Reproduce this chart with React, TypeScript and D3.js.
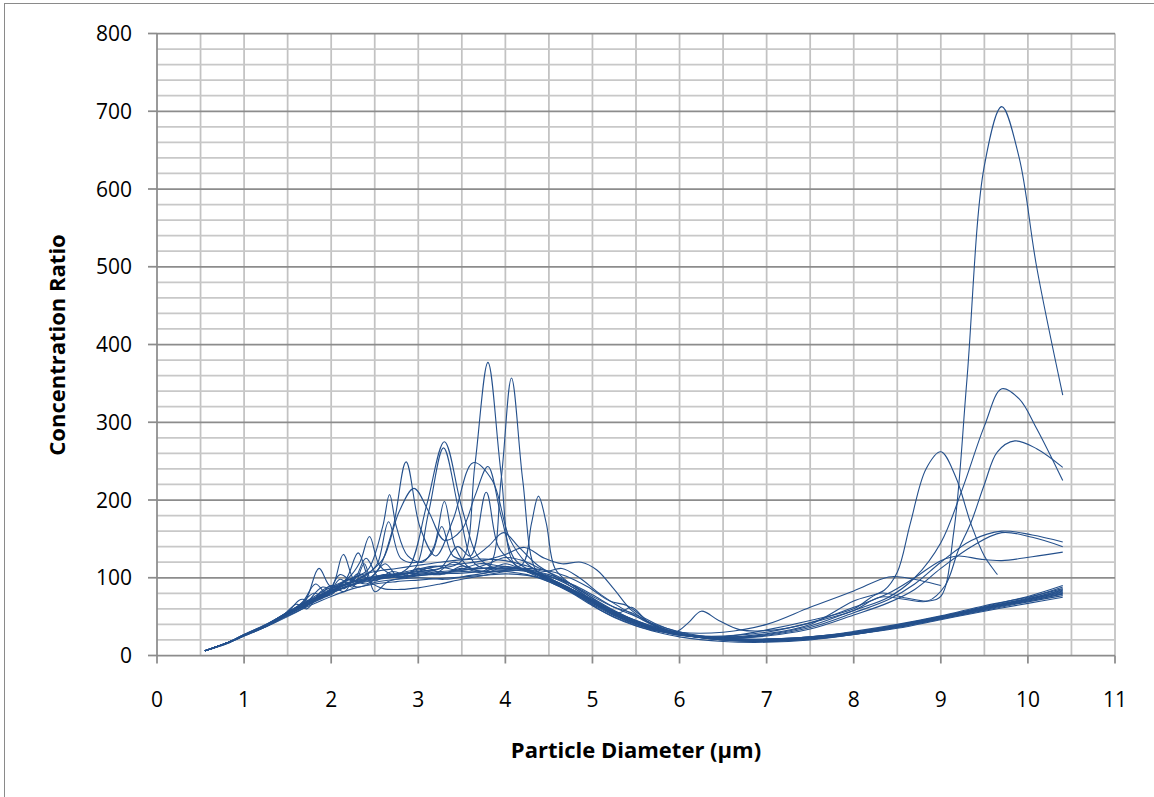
import React from 'react';
import * as d3 from 'd3';

// x ticks / y ticks
const xTicks = [0, 1, 2, 3, 4, 5, 6, 7, 8, 9, 10, 11];
const yTicks = [0, 100, 200, 300, 400, 500, 600, 700, 800];

// each series: [diameter (µm), concentration ratio]
const s01 = [[0.55,6],[0.8,16],[1.0,26],[1.25,39],[1.5,55],[1.75,70],[2.0,84],[2.25,95],[2.5,101],[2.75,104],[3.0,108],[3.25,112],[3.5,122],[3.65,245],[3.8,377],[3.95,235],[4.1,118],[4.3,108],[4.5,98],[4.75,84],[5.0,68],[5.25,52],[5.5,40],[5.75,32],[6.0,26],[6.5,24],[7.0,33],[7.5,45],[8.0,60],[8.3,80],[8.6,74],[8.85,70],[9.0,76],[9.15,160],[9.3,355],[9.5,630],[9.7,706],[9.9,640],[10.1,500],[10.4,335]];
const s02 = [[0.55,6],[0.8,16],[1.0,26],[1.25,38],[1.5,53],[1.75,66],[2.0,80],[2.25,91],[2.5,98],[2.75,101],[3.0,104],[3.25,106],[3.5,108],[3.8,112],[3.95,225],[4.07,357],[4.2,225],[4.35,110],[4.5,100],[4.75,86],[5.0,70],[5.25,55],[5.5,42],[5.75,33],[6.0,27],[6.5,23],[7.0,27],[7.5,38],[8.0,58],[8.4,75],[8.7,100],[9.0,145],[9.25,215],[9.5,295],[9.7,343],[9.9,330],[10.1,292],[10.4,225]];
const s03 = [[0.55,6],[0.8,16],[1.0,27],[1.25,39],[1.5,55],[1.75,69],[2.0,83],[2.25,94],[2.5,100],[2.75,104],[2.9,115],[3.1,195],[3.3,275],[3.5,190],[3.7,125],[3.9,112],[4.1,112],[4.3,108],[4.5,97],[4.75,83],[5.0,68],[5.25,52],[5.5,41],[5.75,33],[6.0,27],[6.5,25],[7.0,30],[7.5,42],[8.0,58],[8.3,75],[8.6,72],[8.85,70],[9.05,90],[9.2,135],[9.35,172],[9.5,220],[9.65,262],[9.85,276],[10.1,266],[10.4,242]];
const s04 = [[0.55,6],[0.8,16],[1.0,26],[1.25,38],[1.5,54],[1.75,68],[2.0,82],[2.25,92],[2.5,105],[2.7,160],[2.86,249],[3.02,165],[3.2,128],[3.4,175],[3.63,248],[3.85,225],[4.05,150],[4.25,118],[4.5,100],[4.75,86],[5.0,70],[5.25,54],[5.5,43],[5.75,34],[6.0,28],[6.5,24],[7.0,28],[7.5,40],[8.0,70],[8.35,84],[8.5,107],[8.65,170],[8.83,240],[9.0,262],[9.17,230],[9.35,168],[9.5,128],[9.65,104]];
const s05 = [[0.55,6],[0.8,16],[1.0,26],[1.25,38],[1.5,54],[1.75,67],[2.0,81],[2.25,92],[2.5,99],[2.75,103],[2.95,110],[3.12,185],[3.29,267],[3.47,185],[3.65,118],[3.9,110],[4.15,112],[4.4,104],[4.6,94],[4.85,80],[5.1,63],[5.35,50],[5.6,38],[5.85,30],[6.1,25],[6.5,22],[7.0,26],[7.5,36],[8.0,55],[8.4,72],[8.7,92],[9.0,120],[9.35,148],[9.7,160],[10.05,155],[10.4,146]];
const s06 = [[0.55,6],[0.8,16],[1.0,26],[1.25,38],[1.5,54],[1.75,68],[2.0,83],[2.25,95],[2.45,108],[2.6,125],[2.78,185],[2.95,215],[3.12,185],[3.3,148],[3.5,162],[3.65,205],[3.8,243],[3.95,180],[4.1,125],[4.3,108],[4.5,96],[4.75,82],[5.0,66],[5.25,51],[5.5,40],[5.75,32],[6.0,26],[6.5,22],[7.0,25],[7.5,34],[8.0,52],[8.4,68],[8.7,85],[9.0,112],[9.35,140],[9.7,158],[10.05,152],[10.4,140]];
const s07 = [[0.55,6],[0.8,16],[1.0,26],[1.25,38],[1.5,55],[1.75,70],[2.0,86],[2.25,100],[2.42,110],[2.59,165],[2.67,207],[2.75,165],[2.88,128],[3.05,120],[3.18,140],[3.3,198],[3.42,140],[3.6,112],[3.85,108],[4.1,110],[4.35,105],[4.6,92],[4.85,76],[5.1,58],[5.35,45],[5.6,35],[5.95,30],[6.1,42],[6.25,57],[6.45,45],[6.7,33],[7.1,33],[7.5,42],[8.0,62],[8.4,80],[8.7,100],[9.0,122],[9.2,128],[9.45,124],[9.7,122],[10.05,127],[10.4,133]];
const s08 = [[0.55,6],[0.8,16],[1.0,26],[1.25,38],[1.5,54],[1.7,70],[1.86,112],[2.0,88],[2.25,96],[2.5,101],[2.75,104],[3.0,106],[3.25,108],[3.5,110],[3.75,112],[4.0,112],[4.2,118],[4.3,170],[4.38,205],[4.47,170],[4.57,112],[4.75,92],[5.0,74],[5.25,58],[5.5,45],[5.75,36],[6.0,30],[6.5,30],[7.0,40],[7.5,62],[8.0,83],[8.4,101],[8.6,100],[9.0,90]];
const s09 = [[0.55,6],[0.8,16],[1.0,26],[1.25,39],[1.5,56],[1.75,71],[2.0,86],[2.14,130],[2.28,95],[2.5,102],[2.75,105],[3.0,108],[3.25,112],[3.45,140],[3.6,128],[3.78,210],[3.92,140],[4.1,118],[4.3,105],[4.5,95],[4.75,82],[5.0,67],[5.25,53],[5.5,42],[5.75,33],[6.0,27],[6.5,21],[7.0,20],[7.5,23],[8.0,30],[8.5,39],[9.0,50],[9.5,63],[10.0,76],[10.4,90]];
const s10 = [[0.55,6],[0.8,16],[1.0,26],[1.25,38],[1.5,54],[1.75,68],[2.0,83],[2.25,95],[2.4,103],[2.53,118],[2.66,172],[2.8,125],[3.0,120],[3.15,130],[3.27,166],[3.4,128],[3.6,125],[3.8,140],[3.98,158],[4.15,140],[4.35,118],[4.6,100],[4.85,82],[5.1,64],[5.35,50],[5.6,38],[5.85,30],[6.1,25],[6.5,20],[7.0,19],[7.5,22],[8.0,28],[8.5,37],[9.0,48],[9.5,60],[10.0,71],[10.4,80]];
const s11 = [[0.55,6],[0.8,16],[1.0,26],[1.25,38],[1.5,55],[1.75,70],[2.0,85],[2.2,100],[2.33,120],[2.44,153],[2.56,115],[2.75,103],[3.0,110],[3.25,115],[3.5,118],[3.75,122],[4.0,130],[4.22,139],[4.45,125],[4.65,118],[4.87,120],[5.05,110],[5.25,85],[5.45,58],[5.7,40],[5.95,30],[6.2,24],[6.6,21],[7.0,21],[7.5,24],[8.0,31],[8.5,40],[9.0,51],[9.5,64],[10.0,75],[10.4,86]];
const s12 = [[0.55,6],[0.8,15],[1.0,25],[1.25,37],[1.5,52],[1.75,66],[2.0,80],[2.18,100],[2.31,132],[2.45,95],[2.6,86],[2.8,85],[3.0,87],[3.25,92],[3.5,98],[3.75,103],[4.0,108],[4.25,110],[4.5,104],[4.75,92],[5.0,76],[5.25,62],[5.45,55],[5.7,40],[6.0,28],[6.5,20],[7.0,18],[7.5,21],[8.0,27],[8.5,36],[9.0,47],[9.5,58],[10.0,69],[10.4,77]];
const s13 = [[0.55,6],[0.8,16],[1.0,27],[1.25,40],[1.5,56],[1.65,72],[1.8,70],[2.0,90],[2.15,82],[2.3,105],[2.5,96],[2.7,108],[2.9,102],[3.1,112],[3.3,105],[3.5,115],[3.75,108],[4.0,118],[4.2,110],[4.45,100],[4.7,88],[4.95,72],[5.2,56],[5.45,44],[5.7,35],[6.0,27],[6.5,20],[7.0,19],[7.5,22],[8.0,29],[8.5,38],[9.0,49],[9.5,61],[10.0,73],[10.4,84]];
const s14 = [[0.55,6],[0.8,16],[1.0,26],[1.25,38],[1.5,53],[1.75,67],[2.0,80],[2.25,91],[2.5,97],[2.75,101],[3.0,103],[3.25,105],[3.5,106],[3.75,108],[4.0,108],[4.25,104],[4.5,95],[4.75,81],[5.0,64],[5.25,49],[5.5,38],[5.75,30],[6.0,24],[6.5,18],[7.0,17],[7.5,20],[8.0,27],[8.5,36],[9.0,47],[9.5,59],[10.0,70],[10.4,79]];
const s15 = [[0.55,6],[0.8,16],[1.0,26],[1.25,38],[1.5,54],[1.7,66],[1.9,88],[2.05,84],[2.2,98],[2.4,92],[2.6,104],[2.8,100],[3.0,106],[3.25,104],[3.5,112],[3.75,106],[4.0,114],[4.25,108],[4.5,98],[4.75,85],[5.0,70],[5.25,56],[5.5,45],[5.75,35],[6.0,28],[6.5,21],[7.0,20],[7.5,23],[8.0,29],[8.5,38],[9.0,49],[9.5,61],[10.0,72],[10.4,81]];
const s16 = [[0.55,6],[0.8,15],[1.0,25],[1.25,37],[1.5,51],[1.75,64],[2.0,76],[2.25,86],[2.5,92],[2.75,95],[3.0,97],[3.25,99],[3.5,101],[3.75,103],[4.0,105],[4.25,103],[4.5,97],[4.75,86],[5.0,72],[5.25,57],[5.5,44],[5.75,34],[6.0,27],[6.5,20],[7.0,19],[7.5,21],[8.0,27],[8.5,35],[9.0,46],[9.5,57],[10.0,67],[10.4,75]];
const s17 = [[0.55,6],[0.8,16],[1.0,26],[1.25,39],[1.5,56],[1.75,72],[2.0,88],[2.25,100],[2.5,108],[2.75,112],[3.0,116],[3.25,120],[3.5,123],[3.75,124],[4.0,122],[4.25,115],[4.45,108],[4.65,112],[4.85,100],[5.1,78],[5.35,60],[5.6,45],[5.85,35],[6.1,28],[6.5,22],[7.0,21],[7.5,24],[8.0,30],[8.5,39],[9.0,50],[9.5,62],[10.0,74],[10.4,88]];
const s18 = [[0.55,6],[0.8,16],[1.0,26],[1.25,38],[1.5,55],[1.65,66],[1.8,80],[1.95,76],[2.1,98],[2.25,88],[2.38,118],[2.5,82],[2.65,95],[2.85,100],[3.1,104],[3.4,108],[3.7,112],[4.0,114],[4.3,110],[4.55,100],[4.8,86],[5.05,68],[5.3,55],[5.45,62],[5.65,42],[5.9,31],[6.2,24],[6.6,21],[7.0,20],[7.5,23],[8.0,29],[8.5,38],[9.0,49],[9.5,61],[10.0,72],[10.4,83]];
const s19 = [[0.55,6],[0.8,16],[1.0,27],[1.25,40],[1.45,52],[1.6,66],[1.72,60],[1.88,82],[2.02,90],[2.15,86],[2.3,102],[2.45,100],[2.62,118],[2.78,100],[3.0,112],[3.2,106],[3.4,120],[3.6,112],[3.8,118],[4.0,126],[4.2,122],[4.4,112],[4.6,102],[4.85,85],[5.1,66],[5.35,52],[5.6,40],[5.85,32],[6.1,26],[6.5,22],[7.0,21],[7.5,24],[8.0,30],[8.5,39],[9.0,50],[9.5,62],[10.0,73],[10.4,85]];
const s20 = [[0.55,6],[0.8,16],[1.0,26],[1.25,37],[1.5,50],[1.7,62],[1.85,75],[2.0,78],[2.15,95],[2.3,88],[2.5,94],[2.75,98],[3.0,100],[3.3,98],[3.6,103],[3.9,108],[4.2,112],[4.45,110],[4.7,102],[4.95,88],[5.2,70],[5.4,64],[5.6,48],[5.85,35],[6.1,27],[6.5,21],[7.0,19],[7.5,22],[8.0,28],[8.5,37],[9.0,48],[9.5,60],[10.0,70],[10.4,79]];
const s21 = [[0.55,6],[0.8,16],[1.0,26],[1.25,38],[1.5,54],[1.68,70],[1.82,92],[1.95,80],[2.1,104],[2.25,96],[2.4,125],[2.55,100],[2.7,104],[2.95,110],[3.2,115],[3.45,110],[3.7,118],[3.95,115],[4.2,112],[4.4,105],[4.6,98],[4.8,90],[5.0,78],[5.25,62],[5.5,50],[5.75,36],[6.0,28],[6.5,22],[7.0,20],[7.5,23],[8.0,29],[8.5,38],[9.0,49],[9.5,61],[10.0,72],[10.4,82]];

const series = [s01, s02, s03, s04, s05, s06, s07, s08, s09, s10, s11, s12, s13, s14, s15, s16, s17, s18, s19, s20, s21];

const W = 1154;
const H = 797;
const plot = { left: 157, right: 1115, top: 33.5, bottom: 655.5 };
const LINE_COLOR = '#24508c';
const FONT = "'Open Sans', 'Noto Sans', sans-serif";

export default function App() {
  const x = d3.scaleLinear().domain([0, 11]).range([plot.left, plot.right]);
  const y = d3.scaleLinear().domain([0, 800]).range([plot.bottom, plot.top]);

  const line = d3.line<number[]>()
    .x(d => x(d[0]))
    .y(d => y(d[1]))
    .curve(d3.curveCatmullRom.alpha(0.5));

  const vGrid = d3.range(0.5, 11.01, 0.5);
  const hMinor = d3.range(20, 800, 20).filter(v => v % 100 !== 0);
  const hMajor = yTicks.filter(v => v > 0);

  return (
    <svg width={W} height={H} style={{ position: 'absolute', left: 0, top: 0, background: '#fff' }}>
      <rect x={4.5} y={3.5} width={W + 10} height={H + 10} fill="#fff" stroke="#8a8a8a" strokeWidth={1} />

      {/* gridlines */}
      {vGrid.map(v => (
        <line key={'v' + v} x1={x(v)} x2={x(v)} y1={plot.top} y2={plot.bottom} stroke="#c2c2c2" strokeWidth={1.75} />
      ))}
      {hMinor.map(v => (
        <line key={'m' + v} x1={plot.left} x2={plot.right} y1={y(v)} y2={y(v)} stroke="#c8c8c8" strokeWidth={1.75} />
      ))}
      {hMajor.map(v => (
        <line key={'M' + v} x1={plot.left} x2={plot.right} y1={y(v)} y2={y(v)} stroke="#8c8c8c" strokeWidth={1.75} />
      ))}

      {/* axes */}
      <line x1={plot.left} x2={plot.left} y1={plot.top} y2={plot.bottom} stroke="#8c8c8c" strokeWidth={1.75} />
      <line x1={plot.left} x2={plot.right} y1={plot.bottom} y2={plot.bottom} stroke="#8c8c8c" strokeWidth={1.75} />
      {yTicks.map(v => (
        <g key={'yt' + v}>
          <line x1={plot.left - 9} x2={plot.left} y1={y(v)} y2={y(v)} stroke="#8c8c8c" strokeWidth={1.75} />
          <text x={132} y={y(v)} dy="0.36em" textAnchor="end" fontFamily={FONT} fontSize={21} fill="#000">{v}</text>
        </g>
      ))}
      {xTicks.map(v => (
        <g key={'xt' + v}>
          <line x1={x(v)} x2={x(v)} y1={plot.bottom} y2={plot.bottom + 8} stroke="#8c8c8c" strokeWidth={1.75} />
          <text x={x(v)} y={707} textAnchor="middle" fontFamily={FONT} fontSize={21} fill="#000">{v}</text>
        </g>
      ))}

      {/* series */}
      {series.map((s, i) => (
        <path key={i} d={line(s) || ''} fill="none" stroke={LINE_COLOR} strokeWidth={1.1} />
      ))}

      {/* titles */}
      <text x={636} y={758} textAnchor="middle" fontFamily={FONT} fontWeight="bold" fontSize={22} fill="#000">Particle Diameter (µm)</text>
      <text transform="translate(65,345) rotate(-90)" textAnchor="middle" fontFamily={FONT} fontWeight="bold" fontSize={22} fill="#000">Concentration Ratio</text>
    </svg>
  );
}
